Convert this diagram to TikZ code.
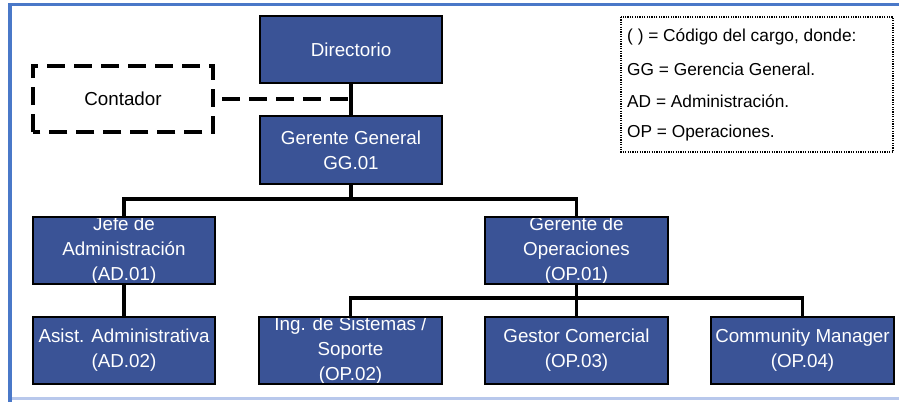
\documentclass[tikz,border=0pt]{standalone}
\usepackage{fontspec}
\setmainfont{Liberation Sans}
\usetikzlibrary{calc}
\definecolor{boxblue}{HTML}{3A5396}
\definecolor{frameblue}{HTML}{4A78C8}
\definecolor{framelight}{HTML}{B8C8EC}
\tikzset{
  orgbox/.style={fill=boxblue, draw=none, minimum width=182pt, minimum height=67pt,
    inner sep=0pt, text=white, align=center,
    font=\fontsize{18.8}{25}\selectfont},
  orgborder/.style={draw=black, line width=2pt},
  link/.style={draw=black, line width=3.5pt},
  dashlink/.style={draw=black, line width=4pt, dash pattern=on 18pt off 9pt},
  legendtext/.style={anchor=west, inner sep=0pt, font=\fontsize{17.3}{20}\selectfont}
}
\begin{document}
\begin{tikzpicture}[x=1pt,y=-1pt]
\useasboundingbox (0,0) rectangle (899,402);
% frame
\fill[frameblue] (8,2.5) rectangle (899,5.5);
\fill[frameblue] (8,2.5) rectangle (11.5,402);
\fill[framelight] (11.5,396.5) rectangle (899,399.5);

% coordinates for bars
\coordinate (bar1) at (0,199);
\coordinate (bar2) at (0,298);

% boxes
\node[orgbox] (dir) at (351,49.5) {Directorio};
\node[orgbox] (gg) at (351,150) {Gerente General\\GG.01};
\node[orgbox] (jefe) at (124,250.5) {Jefe de\\Administración\\(AD.01)};
\node[orgbox] (gop) at (576.5,250.5) {Gerente de\\Operaciones\\(OP.01)};
\node[orgbox] (asist) at (124,350.5) {Asist. Administrativa\\(AD.02)};
\node[orgbox] (ing) at (350.5,350.5) {Ing. de Sistemas /\\Soporte\\(OP.02)};
\node[orgbox] (gest) at (576.5,350.5) {Gestor Comercial\\(OP.03)};
\node[orgbox] (comm) at (802.5,350.5) {Community Manager\\(OP.04)};

% borders drawn over text
\foreach \b in {dir,gg,jefe,gop,asist,ing,gest,comm}
  \draw[orgborder] (\b.south west) rectangle (\b.north east);

% contador
\node[draw=none, minimum width=180pt, minimum height=66pt, inner sep=0pt,
  font=\fontsize{18.8}{25}\selectfont] (cont) at (123,99) {Contador};
\draw[dashlink] (cont.south west) rectangle (cont.north east);
\draw[dashlink, shorten <=9pt] (cont.east) -- (dir.south |- cont.east);

% connectors
\draw[link] (dir.south) -- (gg.north);
\draw[link] (gg.south) -- (gg.south |- bar1) -| (jefe.north);
\draw[link] (gg.south |- bar1) -| (gop.north);
\draw[link] (jefe.south) -- (asist.north);
\draw[link] (gop.south) -- (gop.south |- bar2) -| (ing.north);
\draw[link] (gop.south |- bar2) -| (comm.north);
\draw[link] (gop.south |- bar2) -- (gest.north);

% legend
\draw[black, line width=1.2pt, dash pattern=on 1.2pt off 1.2pt] (621,17) rectangle (893,152);
\node[legendtext] (l1) at (627,37) {( ) = Código del cargo, donde:};
\node[legendtext] (l2) at (627,69) {GG = Gerencia General.};
\node[legendtext] (l3) at (627,101) {AD = Administración.};
\node[legendtext] (l4) at (627,133) {OP = Operaciones.};
\end{tikzpicture}
\end{document}
